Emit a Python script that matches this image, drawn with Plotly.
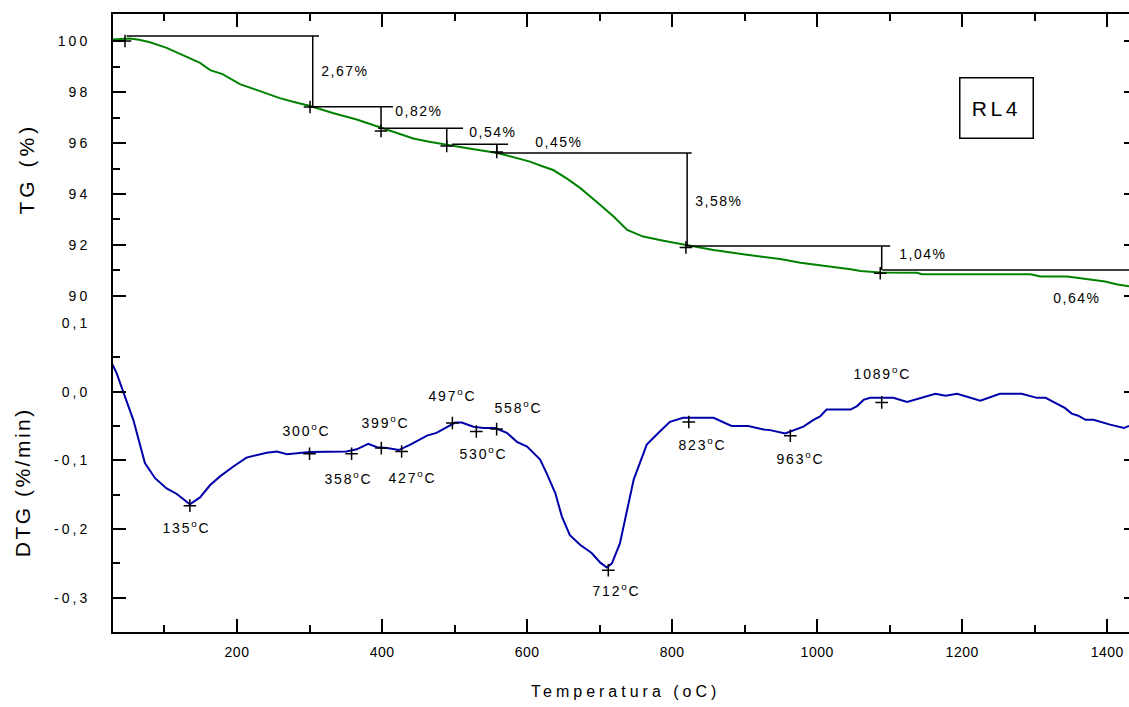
import plotly.graph_objects as go

# ---------------- data ----------------
tg_T = [29, 40, 52, 65, 80, 103, 125, 149, 163, 180, 204, 225, 241, 259, 280, 301,
        332, 365, 397, 420, 443, 465, 490, 520, 559, 580, 604, 620, 636, 655, 673,
        701, 720, 738, 760, 788, 821, 857, 903, 949, 977, 1022, 1046, 1060, 1087,
        1138, 1144, 1294, 1308, 1345, 1362, 1377, 1397, 1414, 1430]
tg_val = [100.06, 100.08, 100.1, 100.05, 99.95, 99.73, 99.45, 99.14, 98.86, 98.7,
          98.31, 98.1, 97.95, 97.76, 97.6, 97.45, 97.18, 96.92, 96.62, 96.4, 96.18,
          96.05, 95.92, 95.78, 95.61, 95.45, 95.27, 95.1, 94.94, 94.6, 94.24, 93.57,
          93.1, 92.59, 92.33, 92.17, 92.0, 91.8, 91.62, 91.45, 91.3, 91.15, 91.05,
          90.98, 90.92, 90.91, 90.85, 90.85, 90.76, 90.76, 90.69, 90.65, 90.57,
          90.45, 90.38]

dtg_T = [28, 34, 43, 57, 73, 87, 103, 117, 135, 149, 163, 177, 195, 213, 241, 255,
         269, 287, 300, 351, 365, 381, 393, 407, 423, 439, 462, 475, 489, 501, 510,
         526, 540, 556, 572, 586, 600, 618, 627, 639, 648, 659, 673, 689, 701, 710,
         717, 728, 747, 765, 783, 797, 815, 857, 882, 905, 926, 935, 956, 981, 995,
         1004, 1013, 1046, 1055, 1064, 1073, 1105, 1124, 1142, 1163, 1177, 1193,
         1225, 1252, 1282, 1303, 1315, 1342, 1351, 1360, 1370, 1381, 1404, 1423, 1430]
dtg_val = [0.040, 0.027, 0.0, -0.041, -0.104, -0.126, -0.141, -0.149, -0.164, -0.154,
           -0.136, -0.123, -0.109, -0.096, -0.089, -0.087, -0.091, -0.089, -0.088,
           -0.087, -0.084, -0.076, -0.081, -0.082, -0.085, -0.077, -0.064, -0.060,
           -0.052, -0.045, -0.045, -0.051, -0.053, -0.053, -0.060, -0.073, -0.080,
           -0.099, -0.119, -0.148, -0.182, -0.209, -0.223, -0.235, -0.249, -0.256,
           -0.250, -0.221, -0.128, -0.077, -0.058, -0.044, -0.038, -0.038, -0.050,
           -0.050, -0.055, -0.056, -0.061, -0.051, -0.041, -0.036, -0.026, -0.026,
           -0.021, -0.012, -0.009, -0.009, -0.015, -0.009, -0.003, -0.006, -0.003,
           -0.013, -0.003, -0.003, -0.009, -0.009, -0.024, -0.032, -0.035, -0.041,
           -0.041, -0.048, -0.053, -0.050]

# DTG peak markers
peak_T = [135, 300, 358, 399, 427, 497, 530, 558, 712, 823, 963, 1089]
peak_dtg = [-0.166, -0.0905, -0.0905, -0.0822, -0.0872, -0.0457, -0.058, -0.0545,
            -0.260, -0.0442, -0.0642, -0.0156]

# TG mass-loss steps
step_T = [304.4, 398.6, 489.2, 558.2, 820.7, 1089, 1445]
step_levels = [100.2, 97.42, 96.58, 95.95, 95.61, 91.96, 91.02, 90.38]
step_h_start = [47.8, 300.7, 394.5, 496.6, 556, 819, 1089.7]
step_h_end = [313, 415, 511.7, 573.8, 827, 1100.7, 1445]
step_labels = ["2,67%", "0,82%", "0,54%", "0,45%", "3,58%", "1,04%", "0,64%"]
step_mark_T = [45.5, 300.7, 398.6, 489.2, 558.2, 819, 1087]
step_mark_tg = [100.0, 97.41, 96.47, 95.88, 95.65, 91.9, 90.89]

x_ticks = [200, 400, 600, 800, 1000, 1200, 1400]
x_ticktext = ["200", "400", "600", "800", "1000", "1200", "1400"]
tg_ticks = [90, 92, 94, 96, 98, 100]
tg_ticktext = ["90", "92", "94", "96", "98", "100"]
dtg_ticks = [-0.3, -0.2, -0.1, 0.0, 0.1]
dtg_ticktext = ["-0,3", "-0,2", "-0,1", "0,0", "0,1"]

# ---------------- figure ----------------
FONT = "Liberation Sans, Arial, sans-serif"
GREEN = "rgb(0,130,0)"
BLUE = "rgb(0,0,170)"

fig = go.Figure()

fig.add_trace(go.Scatter(x=tg_T, y=tg_val, mode="lines", xaxis="x2", yaxis="y2",
                         line=dict(color=GREEN, width=2), showlegend=False))
fig.add_trace(go.Scatter(x=dtg_T, y=dtg_val, mode="lines", xaxis="x", yaxis="y",
                         line=dict(color=BLUE, width=2), showlegend=False))

# step lines
sx, sy = [], []
for i in range(len(step_T)):
    sx += [step_h_start[i], step_h_end[i], None, step_T[i], step_T[i], None]
    sy += [step_levels[i], step_levels[i], None, step_levels[i], step_levels[i + 1], None]
fig.add_trace(go.Scatter(x=sx, y=sy, mode="lines", xaxis="x2", yaxis="y2",
                         line=dict(color="black", width=1.5), showlegend=False))

cross = dict(symbol="cross-thin", size=9, color="black", line=dict(color="black", width=1.5))
fig.add_trace(go.Scatter(x=step_mark_T, y=step_mark_tg, mode="markers", xaxis="x2", yaxis="y2",
                         marker=cross, showlegend=False))
fig.add_trace(go.Scatter(x=peak_T, y=peak_dtg, mode="markers", xaxis="x", yaxis="y",
                         marker=cross, showlegend=False))

# dummy traces for right-side mirror tick axes
fig.add_trace(go.Scatter(x=[None], y=[None], xaxis="x", yaxis="y3", showlegend=False, hoverinfo="skip"))
fig.add_trace(go.Scatter(x=[None], y=[None], xaxis="x2", yaxis="y4", showlegend=False, hoverinfo="skip"))

annotations = []
# step labels
step_shift = [(10, 0), (16, 6.5), (24, 4.6), (40, 7), (10, -2), (19, 4)]
for i, lab in enumerate(step_labels[:6]):
    annotations.append(dict(x=step_T[i], y=(step_levels[i] + step_levels[i + 1]) / 2,
                            xref="x2", yref="y2", text=lab, showarrow=False,
                            xanchor="left", yanchor="middle",
                            xshift=step_shift[i][0], yshift=step_shift[i][1],
                            font=dict(size=14, color="black", family=FONT)))
annotations.append(dict(x=step_h_start[6], y=(step_levels[6] + step_levels[7]) / 2,
                        xref="x2", yref="y2", text=step_labels[6], showarrow=False,
                        xanchor="left", yanchor="middle", xshift=173, yshift=-20,
                        font=dict(size=14, color="black", family=FONT)))

# peak labels
peak_shift = [(-3, -21), (-3, 24), (-3, -24), (4, 26), (11, -25), (0, 28), (7, -22),
              (22, 22), (8, -20), (14, -22), (10, -22), (1, 29)]
for t, d, (dx, dy) in zip(peak_T, peak_dtg, peak_shift):
    annotations.append(dict(x=t, y=d, xref="x", yref="y", text=f"{t}<sup>o</sup>C",
                            showarrow=False, xanchor="center", yanchor="middle",
                            xshift=dx, yshift=dy,
                            font=dict(size=14, color="black", family=FONT)))

# sample box
annotations.append(dict(x=(996 - 113) / 1016, y=(632 - 108) / 618, xref="paper", yref="paper",
                        text="RL4", showarrow=False, xanchor="center", yanchor="middle",
                        width=70, height=57, borderpad=1, bordercolor="black", borderwidth=1.5,
                        font=dict(size=21, color="black", family=FONT)))

# axis titles
annotations.append(dict(x=0, y=0.75, xref="paper", yref="paper", text="TG (%)", textangle=-90,
                        showarrow=False, xanchor="center", yanchor="middle", xshift=-87,
                        font=dict(size=21, color="black", family=FONT)))
annotations.append(dict(x=0, y=0.25, xref="paper", yref="paper", text="DTG (%/min)", textangle=-90,
                        showarrow=False, xanchor="center", yanchor="middle", xshift=-91, yshift=-5,
                        font=dict(size=21, color="black", family=FONT)))
annotations.append(dict(x=0.5, y=0, xref="paper", yref="paper", text="Temperatura (oC)",
                        showarrow=False, xanchor="center", yanchor="middle", xshift=4, yshift=-59,
                        font=dict(size=16, color="black", family=FONT)))

common_x = dict(range=[29, 1430], showgrid=False, zeroline=False, showline=True,
                linecolor="black", linewidth=2, ticks="inside", ticklen=13, tickwidth=1.5,
                tickcolor="black", tickvals=x_ticks,
                minor=dict(ticks="inside", ticklen=7, tickwidth=1.5, tickcolor="black",
                           tickvals=[100, 300, 500, 700, 900, 1100, 1300]))

fig.update_layout(
    width=1129, height=707,
    margin=dict(l=113, r=0, t=14, b=75),
    paper_bgcolor="white", plot_bgcolor="white",
    font=dict(family=FONT, size=14, color="black"),
    showlegend=False,
    xaxis=dict(**common_x, anchor="y", domain=[0, 1], ticktext=x_ticktext,
               tickfont=dict(size=14, family=FONT), ticklabelstandoff=6),
    xaxis2=dict(**common_x, anchor="y2", side="top", matches="x", showticklabels=False),
    yaxis=dict(domain=[0, 0.5], anchor="x", range=[-0.35, 0.1], showgrid=False, zeroline=False,
               showline=True, linecolor="black", linewidth=2, ticks="inside", ticklen=13,
               tickwidth=1.5, tickcolor="black", tickvals=dtg_ticks, ticktext=dtg_ticktext,
               tickfont=dict(size=14, family=FONT), ticklabelstandoff=18,
               minor=dict(ticks="inside", ticklen=7, tickwidth=1.5, tickcolor="black",
                          tickvals=[-0.25, -0.15, -0.05, 0.05])),
    yaxis2=dict(domain=[0.5, 1], anchor="x2", range=[88.94, 101.06], showgrid=False, zeroline=False,
                showline=True, linecolor="black", linewidth=2, ticks="inside", ticklen=13,
                tickwidth=1.5, tickcolor="black", tickvals=tg_ticks, ticktext=tg_ticktext,
                tickfont=dict(size=14, family=FONT), ticklabelstandoff=18,
                minor=dict(ticks="inside", ticklen=7, tickwidth=1.5, tickcolor="black",
                           tickvals=[91, 93, 95, 97, 99])),
    yaxis3=dict(overlaying="y", side="right", anchor="x", range=[-0.35, 0.1], showgrid=False,
                zeroline=False, showline=False, ticks="inside", ticklen=5, tickwidth=1.5,
                tickcolor="black", tickvals=dtg_ticks, showticklabels=False),
    yaxis4=dict(overlaying="y2", side="right", anchor="x2", range=[88.94, 101.06], showgrid=False,
                zeroline=False, showline=False, ticks="inside", ticklen=5, tickwidth=1.5,
                tickcolor="black", tickvals=tg_ticks, showticklabels=False),
    annotations=annotations,
)

# wide letter tracking as in the original figure; the superscript labels are rebuilt
# as  number + raised small "o" + "C"  without Plotly's zero-width helper pieces
post_js = """
var gd = document.getElementById('{plot_id}');
var NS = 'http://www.w3.org/2000/svg';
function track(sel, v) { gd.querySelectorAll(sel).forEach(function (t) { t.style.letterSpacing = v; }); }
track('g.ytick text', '3px');
track('g.y2tick text', '3px');
track('g.xtick text', '0.5px');
var spacing = function (i) {
  if (i <= 6) return '1.5px';
  if (i <= 18) return '1.8px';
  if (i === 19) return '3.5px';
  if (i === 20) return '4px';
  if (i === 21) return '2.5px';
  return '4px';
};
gd.querySelectorAll('g.annotation').forEach(function (g) {
  var i = parseInt(g.getAttribute('data-index'));
  g.querySelectorAll('text').forEach(function (t) {
    t.style.letterSpacing = spacing(i);
    if (i >= 7 && i <= 18) {
      var full = t.textContent.replace(/\\u200b/g, '');
      var num = full.slice(0, full.length - 2);
      while (t.firstChild) { t.removeChild(t.firstChild); }
      t.appendChild(document.createTextNode(num));
      var s1 = document.createElementNS(NS, 'tspan');
      s1.setAttribute('style', 'font-size:70%');
      s1.setAttribute('dy', '-0.6em');
      s1.textContent = 'o';
      t.appendChild(s1);
      var s2 = document.createElementNS(NS, 'tspan');
      s2.setAttribute('dy', '0.42em');
      s2.textContent = 'C';
      t.appendChild(s2);
    }
  });
});
"""

fig.write_html("out.html", post_script=post_js)
